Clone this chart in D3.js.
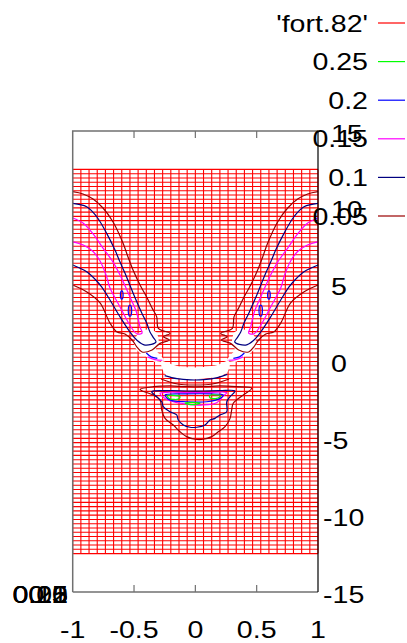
<!DOCTYPE html>
<html>
<head>
<meta charset="utf-8">
<script src="https://cdn.jsdelivr.net/npm/d3@7"></script>
<style>
  html, body { margin: 0; padding: 0; background: #fff; overflow: hidden; }
  svg { display: block; }
  text { font-family: "Liberation Sans", Arial, Helvetica, sans-serif; font-size: 24px; fill: #000; }
</style>
</head>
<body>
<script>
// ---- axis ticks ----
const xTicks = [-1, -0.5, 0, 0.5, 1];
const yTicks = [-15, -10, -5, 0, 5, 10, 15];
const zTickLabels = ["0", "0.05", "0.1", "0.15", "0.2", "0.25"];

// ---- surface mesh of fort.82 (31 x 91 nodes) ----
const meshXRange = [-1, 1];
const meshYRange = [-12.5, 12.5];
const meshXCount = 31;
const meshYCount = 91;

// ---- legend ----
const legendNames = ["'fort.82'", "0.25", "0.2", "0.15", "0.1", "0.05"];
const legendColors = ["#ff0000", "#00ff00", "#0000ff", "#ff00ff", "#000080", "#990000"];
const levelColor = { 0.25: "#00ff00", 0.2: "#0000ff", 0.15: "#ff00ff", 0.1: "#000080", 0.05: "#990000" };

// ---- regions without data (no mesh drawn) ----
const holeLeft = [[-0.468,1.72],[-0.386,2.05],[-0.321,1.85],[-0.305,1.27],[-0.329,0.75],[-0.288,0.36],[-0.264,0.10],[-0.329,0.03],[-0.386,0.29],[-0.451,0.62],[-0.492,1.07]];
const holeRight = [[0.468,1.72],[0.386,2.05],[0.321,1.85],[0.305,1.27],[0.329,0.75],[0.288,0.36],[0.264,0.10],[0.329,0.03],[0.386,0.29],[0.451,0.62],[0.492,1.07]];
const holeCentre = [[-0.274,-0.01],[-0.234,-0.12],[-0.152,-0.34],[-0.044,-0.44],[0.065,-0.40],[0.174,-0.29],[0.256,-0.01],[0.277,-0.12],[0.256,-0.66],[0.174,-0.95],[0.065,-1.08],[-0.044,-1.11],[-0.152,-1.06],[-0.234,-0.84],[-0.266,-0.44]];

// ---- contour level 0.05 ----
const c005Left = [[-1,11.05],[-0.916,10.90],[-0.834,10.57],[-0.753,9.99],[-0.671,9.08],[-0.590,7.71],[-0.549,6.80],[-0.508,5.95],[-0.451,4.98],[-0.397,4.20],[-0.353,3.48],[-0.315,2.90],[-0.302,2.16],[-0.207,1.83],[-0.261,1.61],[-0.212,1.40],[-0.288,1.18],[-0.353,0.75],[-0.435,0.62],[-0.476,0.94],[-0.516,1.40],[-0.574,1.79],[-0.639,1.92],[-0.696,2.50],[-0.777,3.81],[-0.884,4.52],[-1,4.98]];
const c005Right = [[1,11.05],[0.916,10.90],[0.834,10.57],[0.753,9.99],[0.671,9.08],[0.590,7.71],[0.549,6.80],[0.508,5.95],[0.451,4.98],[0.397,4.20],[0.353,3.48],[0.315,2.90],[0.302,2.16],[0.207,1.83],[0.261,1.61],[0.212,1.40],[0.288,1.18],[0.353,0.75],[0.435,0.62],[0.476,0.94],[0.516,1.40],[0.574,1.79],[0.639,1.92],[0.696,2.50],[0.777,3.81],[0.884,4.52],[1,4.98]];
const c005Smile = [[-0.280,-1.14],[-0.166,-1.43],[-0.003,-1.53],[0.160,-1.43],[0.275,-1.14]];
const c005Lower = [[-0.451,-1.81],[-0.343,-1.64],[-0.207,-1.59],[-0.071,-1.64],[0.065,-1.64],[0.201,-1.59],[0.337,-1.64],[0.459,-1.74],[0.391,-2.18],[0.309,-2.72],[0.296,-3.16],[0.283,-3.70],[0.242,-4.24],[0.187,-4.57],[0.133,-4.89],[0.065,-5.06],[-0.003,-5.06],[-0.071,-4.89],[-0.125,-4.57],[-0.180,-4.13],[-0.247,-3.70],[-0.274,-3.16],[-0.288,-2.50],[-0.343,-2.18],[-0.437,-1.90]];

// ---- contour level 0.1 ----
const c010Left = [[-1,10.29],[-0.886,10.07],[-0.804,9.42],[-0.723,8.34],[-0.655,7.25],[-0.614,6.47],[-0.574,5.76],[-0.508,4.46],[-0.437,3.16],[-0.397,2.50],[-0.370,1.92],[-0.345,1.59],[-0.321,1.27],[-0.411,1.07],[-0.478,1.40],[-0.533,1.92],[-0.614,2.90],[-0.696,4.00],[-0.764,4.85],[-0.804,5.24],[-0.886,5.84],[-1,6.28]];
const c010Right = [[1,10.29],[0.886,10.07],[0.804,9.42],[0.723,8.34],[0.655,7.25],[0.614,6.47],[0.574,5.76],[0.508,4.46],[0.437,3.16],[0.397,2.50],[0.370,1.92],[0.345,1.59],[0.321,1.27],[0.411,1.07],[0.478,1.40],[0.533,1.92],[0.614,2.90],[0.696,4.00],[0.764,4.85],[0.804,5.24],[0.886,5.84],[1,6.28]];
const c010Band = [[-0.25,-0.92],[-0.15,-1.12],[-0.04,-1.20],[0.07,-1.18],[0.18,-1.05],[0.26,-0.84]];
const c010Lower = [[-0.356,-1.96],[-0.207,-1.90],[-0.071,-1.92],[0.065,-1.92],[0.201,-1.90],[0.323,-1.92],[0.283,-2.29],[0.256,-2.62],[0.256,-3.27],[0.201,-3.48],[0.160,-3.70],[0.119,-3.81],[0.079,-4.13],[0.011,-4.28],[-0.044,-4.28],[-0.098,-4.13],[-0.139,-3.81],[-0.152,-3.48],[-0.207,-3.27],[-0.261,-2.94],[-0.274,-2.62],[-0.315,-2.29]];

// ---- contour level 0.15 ----
const c015Left = [[-1,9.34],[-0.916,9.01],[-0.834,8.30],[-0.753,7.38],[-0.671,6.47],[-0.614,5.63],[-0.533,4.20],[-0.478,3.16],[-0.451,2.24],[-0.435,1.85],[-0.476,1.79],[-0.508,2.05],[-0.549,2.57],[-0.614,3.55],[-0.696,4.78],[-0.728,5.63],[-0.777,6.54],[-0.832,7.14],[-0.914,7.58],[-1,7.79]];
const c015Right = [[1,9.34],[0.916,9.01],[0.834,8.30],[0.753,7.38],[0.671,6.47],[0.614,5.63],[0.533,4.20],[0.478,3.16],[0.451,2.24],[0.435,1.85],[0.476,1.79],[0.508,2.05],[0.549,2.57],[0.614,3.55],[0.696,4.78],[0.728,5.63],[0.777,6.54],[0.832,7.14],[0.914,7.58],[1,7.79]];
const c015Lower = [[-0.288,-2.07],[-0.207,-2.00],[-0.071,-2.03],[0.065,-2.03],[0.256,-2.03],[0.228,-2.24],[0.174,-2.68],[0.065,-2.83],[-0.071,-2.77],[-0.180,-2.62],[-0.247,-2.40]];
const c015TipLeft = [[-0.39,0.30],[-0.33,0.12],[-0.27,0.08]];
const c015TipRight = [[0.39,0.30],[0.33,0.12],[0.27,0.08]];

// ---- contour level 0.2 ----
const c020Lower = [[-0.247,-2.18],[-0.071,-2.11],[0.119,-2.11],[0.228,-2.18],[0.201,-2.40],[0.093,-2.62],[-0.071,-2.62],[-0.207,-2.50]];
const c020TipLeft = [[-0.40,0.55],[-0.36,0.30],[-0.31,0.20]];
const c020TipRight = [[0.40,0.55],[0.36,0.30],[0.31,0.20]];
const c020Spots = [[-0.600,4.33,0.011,0.27],[-0.533,3.31,0.014,0.36],[0.600,4.33,0.011,0.27],[0.533,3.31,0.014,0.36]];

// ---- contour level 0.25 ----
const c025A = [[-0.229,-2.24],[-0.180,-2.20],[-0.125,-2.29],[-0.139,-2.44],[-0.207,-2.42]];
const c025B = [[-0.084,-2.72],[-0.022,-2.66],[0.038,-2.72],[-0.022,-2.81]];
const c025C = [[0.119,-2.20],[0.174,-2.18],[0.207,-2.24],[0.174,-2.40],[0.119,-2.36]];

const contourPaths = [
  { level: 0.05, pts: c005Left, closed: false },
  { level: 0.05, pts: c005Right, closed: false },
  { level: 0.05, pts: c005Smile, closed: false },
  { level: 0.05, pts: c005Lower, closed: true },
  { level: 0.1, pts: c010Left, closed: false },
  { level: 0.1, pts: c010Right, closed: false },
  { level: 0.1, pts: c010Band, closed: false },
  { level: 0.1, pts: c010Lower, closed: true },
  { level: 0.15, pts: c015Left, closed: false },
  { level: 0.15, pts: c015Right, closed: false },
  { level: 0.15, pts: c015Lower, closed: true },
  { level: 0.15, pts: c015TipLeft, closed: false },
  { level: 0.15, pts: c015TipRight, closed: false },
  { level: 0.2, pts: c020Lower, closed: true },
  { level: 0.2, pts: c020TipLeft, closed: false },
  { level: 0.2, pts: c020TipRight, closed: false },
  { level: 0.25, pts: c025A, closed: true },
  { level: 0.25, pts: c025B, closed: true },
  { level: 0.25, pts: c025C, closed: true }
];

// ---- drawing ----
const W = 407, H = 643;
const svg = d3.select("body").append("svg").attr("width", W).attr("height", H);

const x = d3.scaleLinear().domain([-1, 1]).range([72.7, 318]);
const y = d3.scaleLinear().domain([-15, 15]).range([592, 131]);

const meshX = d3.range(meshXCount).map(i => meshXRange[0] + i * (meshXRange[1] - meshXRange[0]) / (meshXCount - 1));
const meshY = d3.range(meshYCount).map(i => meshYRange[0] + i * (meshYRange[1] - meshYRange[0]) / (meshYCount - 1));

const mesh = svg.append("g").attr("stroke", "#ff0000").attr("stroke-width", 1.1);
mesh.selectAll("line.h").data(meshY).join("line").attr("class", "h")
  .attr("x1", x(meshXRange[0])).attr("x2", x(meshXRange[1]))
  .attr("y1", d => y(d)).attr("y2", d => y(d));
mesh.selectAll("line.v").data(meshX).join("line").attr("class", "v")
  .attr("y1", y(meshYRange[1])).attr("y2", y(meshYRange[0]))
  .attr("x1", d => x(d)).attr("x2", d => x(d));

// blank out cells with no data
const poly = d3.line().x(d => x(d[0])).y(d => y(d[1])).curve(d3.curveCardinalClosed.tension(0.3));
svg.append("g").selectAll("path").data([holeLeft, holeRight, holeCentre]).join("path")
  .attr("d", poly).attr("fill", "#fff").attr("stroke", "#fff").attr("stroke-width", 1.5);

// contour lines
const openLine = d3.line().x(d => x(d[0])).y(d => y(d[1])).curve(d3.curveCatmullRom.alpha(0.5));
const closedLine = d3.line().x(d => x(d[0])).y(d => y(d[1])).curve(d3.curveCatmullRomClosed.alpha(0.5));
svg.append("g").attr("fill", "none").selectAll("path").data(contourPaths).join("path")
  .attr("d", d => (d.closed ? closedLine : openLine)(d.pts))
  .attr("stroke", d => levelColor[d.level]).attr("stroke-width", 1.2);

svg.append("g").selectAll("ellipse").data(c020Spots).join("ellipse")
  .attr("cx", d => x(d[0])).attr("cy", d => y(d[1]))
  .attr("rx", d => x(d[2]) - x(0)).attr("ry", d => y(0) - y(d[3]))
  .attr("fill", "none").attr("stroke", levelColor[0.2]).attr("stroke-width", 1.2);

// frame
const x0 = x(-1), x1 = x(1), yT = y(15), yB = y(-15);
const frame = svg.append("g").attr("fill", "none");
frame.append("path").attr("d", `M${x0},${yB}V${yT}H${x1}`).attr("stroke", "#707070").attr("stroke-width", 1.5);
frame.append("path").attr("d", `M${x0},${yB}H${x1}`).attr("stroke", "#707070").attr("stroke-width", 1.5);
frame.append("path").attr("d", `M${x1},${yT}V${yB}`).attr("stroke", "#000").attr("stroke-width", 1.2);

const inner = xTicks.filter(t => t > -1 && t < 1);
frame.selectAll("line.tb").data(inner).join("line").attr("class", "tb")
  .attr("x1", d => x(d)).attr("x2", d => x(d)).attr("y1", yB).attr("y2", yB - 7)
  .attr("stroke", "#707070").attr("stroke-width", 1.2);
frame.selectAll("line.tt").data(inner).join("line").attr("class", "tt")
  .attr("x1", d => x(d)).attr("x2", d => x(d)).attr("y1", yT).attr("y2", yT + 7)
  .attr("stroke", "#707070").attr("stroke-width", 1.2);

// text helper: slightly widened glyphs
const SX = 1.19;
function label(g, str, px, py, anchor) {
  return g.append("text")
    .attr("transform", `translate(${px},${py}) scale(${SX},1)`)
    .attr("text-anchor", anchor)
    .text(str);
}

const labels = svg.append("g");
xTicks.forEach(t => label(labels, String(t), x(t), 638, "middle"));
yTicks.forEach(t => label(labels, String(t), t < 0 ? 323 : 331, y(t) + 10.5, "start"));
zTickLabels.forEach(s => label(labels, s, 68, 603, "end"));

// legend
const legend = svg.append("g");
legendNames.forEach((name, i) => {
  const ly = 23 + i * 38.6;
  label(legend, name, 368, ly + 8.6, "end");
  legend.append("line").attr("x1", 378).attr("x2", 405).attr("y1", ly).attr("y2", ly)
    .attr("stroke", legendColors[i]).attr("stroke-width", 1.2);
});
</script>
</body>
</html>
